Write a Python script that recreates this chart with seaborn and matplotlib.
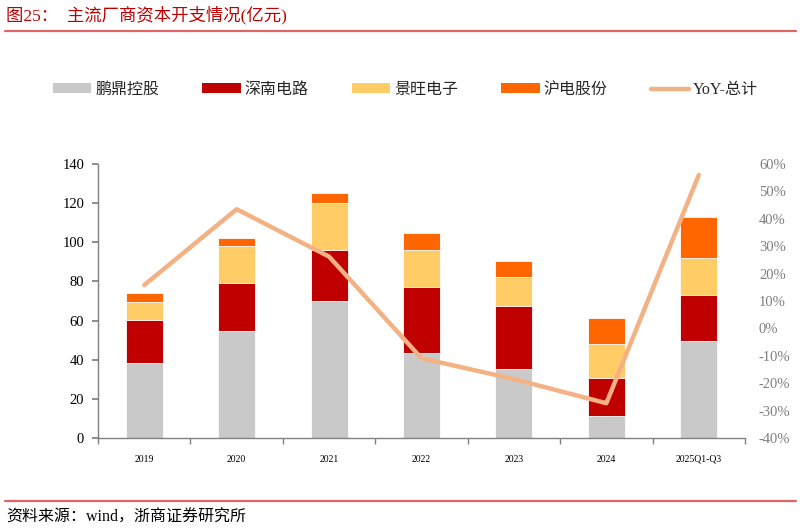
import numpy as np
import pandas as pd
import matplotlib
matplotlib.use("Agg")
import matplotlib.pyplot as plt
import seaborn as sns
from matplotlib.lines import Line2D
from matplotlib.patches import Patch
from matplotlib.ticker import FuncFormatter, MultipleLocator

categories = ["2019", "2020", "2021", "2022", "2023", "2024", "2025Q1-Q3"]
pengding = [38.5, 54.5, 69.8, 43.4, 35.3, 11.4, 49.7]
shennan = [21.8, 24.7, 26.3, 33.8, 32.3, 19.3, 23.4]
jingwang = [9.2, 19.1, 24.1, 18.9, 14.7, 17.3, 18.9]
hudian = [4.4, 3.7, 5.1, 8.9, 8.3, 13.3, 20.9]
yoy = [0.158, 0.435, 0.262, -0.109, -0.185, -0.273, 0.56]

series_names = ["鹏鼎控股", "深南电路", "景旺电子", "沪电股份"]
series_vals = [pengding, shennan, jingwang, hudian]
colors = ["#C9C9C9", "#C00000", "#FFCC66", "#FF6600"]
line_color = "#F4B183"
line_name = "YoY-总计"

sns.set_theme(style="white")
FAM = ["Liberation Serif", "Noto Sans CJK SC"]
plt.rcParams["font.family"] = FAM

fig = plt.figure(figsize=(8.02, 5.31), dpi=100)
ax = fig.add_axes([98 / 802, 1 - 438 / 531, (745 - 98) / 802, (438 - 164) / 531])

df = pd.DataFrame({"cat": categories})
cum = np.zeros(len(categories))
cums = []
for v in series_vals:
    cum = cum + np.array(v)
    cums.append(cum.copy())

# draw tallest (cumulative) first so lower segments overlay
for name, c, col in reversed(list(zip(series_names, cums, colors))):
    d = df.copy()
    d["val"] = c
    sns.barplot(data=d, x="cat", y="val", color=col, width=0.4, ax=ax,
                edgecolor="white", linewidth=0.6, saturation=1, order=categories)

ax.set_ylim(0, 140)
ax.set_xlim(-0.5, len(categories) - 0.5)
ax.yaxis.set_major_locator(MultipleLocator(20))
ax.set_xlabel("")
ax.set_ylabel("")
for s in ["top", "right"]:
    ax.spines[s].set_visible(False)
for s in ["left", "bottom"]:
    ax.spines[s].set_color("#808080")
    ax.spines[s].set_linewidth(1.0)
ax.tick_params(axis="y", which="both", left=True, length=4, color="#808080",
               labelsize=10.5, labelcolor="black", pad=6)
ax.set_xticks(np.arange(len(categories)))
ax.set_xticklabels(categories)
ax.tick_params(axis="x", which="major", bottom=False, labelsize=7, pad=6, labelcolor="black")
ax.set_xticks(np.arange(len(categories) + 1) - 0.5, minor=True)
ax.tick_params(axis="x", which="minor", bottom=True, length=4, color="#808080", direction="out")
for lab in ax.get_yticklabels() + ax.get_xticklabels():
    lab.set_fontfamily(FAM)

ax2 = ax.twinx()
x_pos = np.arange(len(categories))
sns.lineplot(x=x_pos, y=yoy, ax=ax2, color=line_color, linewidth=3.2, legend=False)
ax2.set_ylim(-0.4, 0.6)
ax2.yaxis.set_major_locator(MultipleLocator(0.1))
ax2.yaxis.set_major_formatter(FuncFormatter(lambda v, p: f"{round(v * 100):d}%"))
for s in ["top", "right", "left", "bottom"]:
    ax2.spines[s].set_visible(False)
ax2.tick_params(axis="y", right=False, labelsize=10.5, labelcolor="#7F7F7F", pad=4)
ax2.set_ylabel("")
for lab in ax2.get_yticklabels():
    lab.set_fontfamily(FAM)
ax2.set_xlim(-0.5, len(categories) - 0.5)

handles = [Patch(facecolor=c, edgecolor="none") for c in colors]
handles.append(Line2D([0], [0], color=line_color, linewidth=3.2))
labels = series_names + [line_name]
fig.legend(handles, labels, loc="center", bbox_to_anchor=(0.5056, 1 - 90 / 531), ncol=5,
           frameon=False, prop={"family": FAM, "size": 11.5}, handlelength=2.4,
           handleheight=0.6, columnspacing=2.7, handletextpad=0.25)

fig.text(6 / 802, 1 - 15 / 531, "图25：  主流厂商资本开支情况(亿元)", color="#C00000",
         fontsize=12.5, va="center", ha="left", family=FAM)
fig.add_artist(Line2D([5 / 802, 796 / 802], [1 - 31 / 531] * 2, color="#E06666", linewidth=1.6))
fig.add_artist(Line2D([5 / 802, 796 / 802], [1 - 500.5 / 531] * 2, color="#E06666", linewidth=1.6))
fig.text(6 / 802, 1 - 518 / 531, "资料来源：wind，浙商证券研究所", color="black",
         fontsize=11.5, va="center", ha="left", family=FAM)

fig.savefig("out.png", dpi=100)
